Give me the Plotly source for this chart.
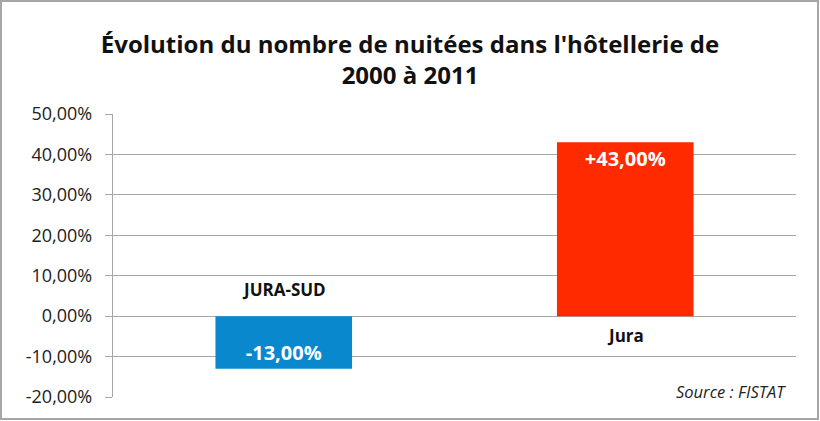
import plotly.graph_objects as go

# data
categories = ["JURA-SUD", "Jura"]
values = [-13.0, 43.0]          # % evolution 2000-2011
bar_colors = ["#0A88CE", "#FF2A00"]
y_ticks = [-20, -10, 0, 10, 20, 30, 40, 50]


def pct(v, sign=False):
    s = f"{v:.2f}".replace(".", ",") + "%"
    return ("+" + s) if (sign and v > 0) else s


labels = [pct(v, sign=True) for v in values]
tick_text = [pct(t) for t in y_ticks]

W, H = 820, 421
ml, mr, mt, mb = 113, 24, 114, 24
pw, ph = W - ml - mr, H - mt - mb

fig = go.Figure()
fig.add_trace(go.Bar(
    x=categories, y=values,
    marker=dict(color=bar_colors, line=dict(width=0)),
    width=0.4,
    text=labels, textposition="inside", insidetextanchor="end",
    textfont=dict(family="Open Sans", size=20, color="white", weight="bold"),
    textangle=0,
    cliponaxis=False,
))

# category labels next to the zero line (above for negative bars, below for positive)
for c, v in zip(categories, values):
    fig.add_annotation(
        x=c, y=0, text="<b>" + c + "</b>", showarrow=False,
        yanchor="bottom" if v < 0 else "top", yshift=13 if v < 0 else -6,
        font=dict(family="Open Sans", size=17, color="#111111"),
    )

fig.add_annotation(
    xref="paper", yref="paper", x=0.988, y=0.018, xanchor="right", yanchor="middle",
    text="<i>Source : FISTAT</i>", showarrow=False,
    font=dict(family="Open Sans", size=16.5, color="#222222"),
)

# outer frame
fig.add_shape(
    type="rect", xref="paper", yref="paper",
    x0=(1 - ml) / pw, x1=(W - 2 - ml) / pw,
    y0=-(mb - 2) / ph, y1=1 + (mt - 1) / ph,
    line=dict(color="#A6A6A6", width=2), layer="below",
)

fig.update_layout(
    width=W, height=H,
    margin=dict(l=ml, r=mr, t=mt, b=mb),
    paper_bgcolor="white", plot_bgcolor="white",
    showlegend=False,
    title=dict(
        text="<b>Évolution du nombre de nuitées dans l'hôtellerie de<br>2000 à 2011</b>",
        x=0.5, xanchor="center", y=0.875, yanchor="top",
        font=dict(family="Open Sans", size=24, color="#111111"),
    ),
    xaxis=dict(showticklabels=False, showgrid=False, zeroline=False, showline=False, ticks=""),
    yaxis=dict(
        range=[-20, 50], tickvals=y_ticks, ticktext=tick_text,
        showgrid=True, gridcolor="#A6A6A6", gridwidth=1.3,
        zeroline=False, showline=True, linecolor="#A6A6A6", linewidth=1.3,
        ticks="outside", ticklen=7, tickcolor="#A6A6A6", ticklabelstandoff=9,
        tickfont=dict(family="Open Sans", size=18, color="#222222"),
    ),
)

fig.write_html("out.html", config={"displayModeBar": False},
               post_script="document.body.style.margin='0';")
